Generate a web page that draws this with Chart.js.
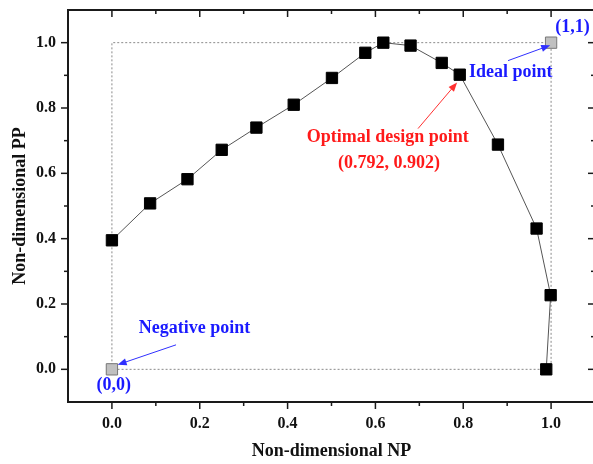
<!DOCTYPE html>
<html>
<head>
<meta charset="utf-8">
<script src="https://cdn.jsdelivr.net/npm/chart.js@4.4.1/dist/chart.umd.min.js"></script>
<style>
html, body { margin: 0; padding: 0; overflow: hidden; background: #fff; }
canvas { display: block; }
</style>
</head>
<body>
<canvas id="paretoChart" width="600" height="464"></canvas>
<script>
// Pareto front
const npValues = [0.0, 0.087, 0.172, 0.250, 0.329, 0.414, 0.501, 0.577, 0.618, 0.680, 0.751, 0.792, 0.879, 0.967, 0.999, 0.989];
const ppValues = [0.395, 0.508, 0.582, 0.672, 0.740, 0.810, 0.892, 0.969, 1.000, 0.991, 0.938, 0.902, 0.688, 0.431, 0.227, 0.0];

// negative (0,0) and ideal (1,1) points
const refNp = [0, 1];
const refPp = [0, 1];

// dotted box between them
const boxNp = [0, 0, 1, 1, 0];
const boxPp = [0, 1, 1, 0, 0];

const majorTicks = [0, 0.2, 0.4, 0.6, 0.8, 1.0];
const minorTicks = [0.1, 0.3, 0.5, 0.7, 0.9];
const axisMin = -0.1;
const axisMax = 1.1;

// text notes and arrows, in data units
const noteTexts = ['Optimal design point', '(0.792, 0.902)', 'Ideal point', '(1,1)', 'Negative point', '(0,0)'];
const noteX = [0.628, 0.631, 0.908, 1.049, 0.188, 0.004];
const noteY = [0.711, 0.631, 0.909, 1.047, 0.124, -0.049];
const noteColors = ['#ff1a1a', '#ff1a1a', '#1a1aff', '#1a1aff', '#1a1aff', '#1a1aff'];

const arrowFrom = [[0.697, 0.737], [0.902, 0.945], [0.146, 0.075]];
const arrowTo = [[0.786, 0.878], [0.998, 0.992], [0.013, 0.014]];
const arrowColors = ['#ff3030', '#3030ff', '#3030ff'];

const serif = 'Liberation Serif';

function toPoints(xs, ys) {
    return xs.map((v, i) => ({ x: v, y: ys[i] }));
}

// no extra room for the edge labels, the frame is fixed
function noPadding(s) {
    s.paddingTop = 0;
    s.paddingBottom = 0;
    s.paddingLeft = 0;
    s.paddingRight = 0;
}

const framePlugin = {
    id: 'frame',
    afterDraw(chart) {
        const { ctx, chartArea: a, scales: { x, y } } = chart;
        ctx.save();
        ctx.strokeStyle = '#1a1a1a';
        ctx.lineWidth = 2;
        ctx.strokeRect(a.left, a.top, a.right - a.left, a.bottom - a.top);

        ctx.lineWidth = 1.5;
        const seg = (x1, y1, x2, y2) => {
            ctx.beginPath();
            ctx.moveTo(x1, y1);
            ctx.lineTo(x2, y2);
            ctx.stroke();
        };
        const drawTicks = (vals, len) => {
            vals.forEach(v => {
                const px = x.getPixelForValue(v);
                seg(px, a.bottom, px, a.bottom + len);
                seg(px, a.top, px, a.top + len);
                const py = y.getPixelForValue(v);
                seg(a.left - len, py, a.left, py);
                seg(a.right - len, py, a.right, py);
            });
        };
        drawTicks(majorTicks, 7);
        drawTicks(minorTicks, 4);
        ctx.restore();
    }
};

const notesPlugin = {
    id: 'notes',
    afterDatasetsDraw(chart) {
        const { ctx, scales: { x, y } } = chart;
        ctx.save();

        arrowFrom.forEach((f, i) => {
            const x1 = x.getPixelForValue(f[0]), y1 = y.getPixelForValue(f[1]);
            const x2 = x.getPixelForValue(arrowTo[i][0]), y2 = y.getPixelForValue(arrowTo[i][1]);
            const ang = Math.atan2(y2 - y1, x2 - x1);
            ctx.strokeStyle = arrowColors[i];
            ctx.fillStyle = arrowColors[i];
            ctx.lineWidth = 1;
            ctx.beginPath();
            ctx.moveTo(x1, y1);
            ctx.lineTo(x2 - 7 * Math.cos(ang), y2 - 7 * Math.sin(ang));
            ctx.stroke();
            ctx.beginPath();
            ctx.moveTo(x2, y2);
            ctx.lineTo(x2 - 9 * Math.cos(ang) + 3.5 * Math.sin(ang), y2 - 9 * Math.sin(ang) - 3.5 * Math.cos(ang));
            ctx.lineTo(x2 - 9 * Math.cos(ang) - 3.5 * Math.sin(ang), y2 - 9 * Math.sin(ang) + 3.5 * Math.cos(ang));
            ctx.closePath();
            ctx.fill();
        });

        ctx.font = 'bold 18px "' + serif + '"';
        ctx.textAlign = 'center';
        ctx.textBaseline = 'middle';
        noteTexts.forEach((t, i) => {
            ctx.fillStyle = noteColors[i];
            ctx.fillText(t, x.getPixelForValue(noteX[i]), y.getPixelForValue(noteY[i]));
        });
        ctx.restore();
    }
};

const tickFont = { family: serif, size: 16, weight: 'bold' };
const titleFont = { family: serif, size: 18, weight: 'bold' };

new Chart(document.getElementById('paretoChart'), {
    type: 'scatter',
    data: {
        datasets: [
            {
                label: 'box',
                data: toPoints(boxNp, boxPp),
                showLine: true,
                borderColor: '#8a8a8a',
                borderWidth: 1,
                borderDash: [2, 2],
                pointRadius: 0,
                order: 3
            },
            {
                label: 'Pareto front',
                data: toPoints(npValues, ppValues),
                showLine: true,
                borderColor: '#555',
                borderWidth: 1,
                pointStyle: 'rect',
                pointRadius: 8,
                pointBackgroundColor: '#000',
                pointBorderColor: '#000',
                pointBorderWidth: 1,
                order: 2
            },
            {
                label: 'reference points',
                data: toPoints(refNp, refPp),
                pointStyle: 'rect',
                pointRadius: 8,
                pointBackgroundColor: '#c0c0c0',
                pointBorderColor: '#777',
                pointBorderWidth: 1,
                order: 1
            }
        ]
    },
    options: {
        responsive: false,
        animation: false,
        layout: { autoPadding: false, padding: { top: 10, right: 5, left: 0, bottom: 0 } },
        plugins: {
            legend: { display: false },
            tooltip: { enabled: false }
        },
        scales: {
            x: {
                type: 'linear',
                min: axisMin,
                max: axisMax,
                grid: { display: false, drawTicks: false },
                border: { display: false },
                afterBuildTicks: s => { s.ticks = majorTicks.map(v => ({ value: v })); },
                afterFit: s => { s.height = 62; noPadding(s); },
                ticks: {
                    padding: 12,
                    color: '#111',
                    font: tickFont,
                    maxRotation: 0,
                    callback: v => v.toFixed(1)
                },
                title: {
                    display: true,
                    text: 'Non-dimensional NP',
                    color: '#111',
                    font: titleFont,
                    padding: { top: 0, bottom: 2 }
                }
            },
            y: {
                type: 'linear',
                min: axisMin,
                max: axisMax,
                grid: { display: false, drawTicks: false },
                border: { display: false },
                afterBuildTicks: s => { s.ticks = majorTicks.map(v => ({ value: v })); },
                afterFit: s => { s.width = 68; noPadding(s); },
                ticks: {
                    padding: 12,
                    color: '#111',
                    font: tickFont,
                    callback: v => v.toFixed(1)
                },
                title: {
                    display: true,
                    text: 'Non-dimensional PP',
                    color: '#111',
                    font: titleFont,
                    padding: { top: 10, bottom: 0 }
                }
            }
        }
    },
    plugins: [framePlugin, notesPlugin]
});
</script>
</body>
</html>
